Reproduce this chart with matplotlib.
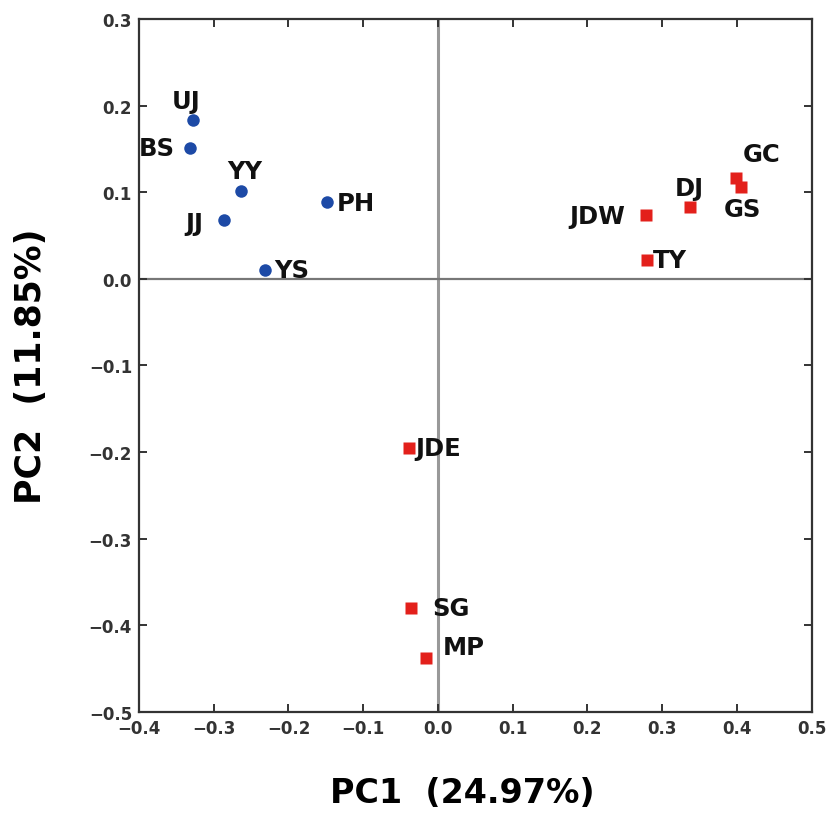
import numpy as np
import matplotlib
matplotlib.use("Agg")
import matplotlib.pyplot as plt
import matplotlib.ticker as ticker

# PCA scores
blue_names = ["UJ", "BS", "YY", "JJ", "PH", "YS"]
blue_pc1 = [-0.328, -0.332, -0.264, -0.286, -0.148, -0.232]
blue_pc2 = [0.183, 0.151, 0.101, 0.068, 0.089, 0.010]

red_names = ["GC", "GS", "DJ", "JDW", "TY", "JDE", "SG", "MP"]
red_pc1 = [0.399, 0.406, 0.337, 0.279, 0.280, -0.039, -0.036, -0.016]
red_pc2 = [0.117, 0.106, 0.083, 0.074, 0.022, -0.195, -0.380, -0.438]

# label offsets in points (dx, dy, ha, va)
OFF = {
    "UJ": (-5, 5, "center", "bottom"), "BS": (-11, 0, "right", "center"),
    "YY": (3, 6, "center", "bottom"), "JJ": (-15, -2, "right", "center"),
    "PH": (7, -1, "left", "center"), "YS": (7, 0, "left", "center"),
    "GC": (18, 8, "center", "bottom"), "GS": (1, -7, "center", "top"),
    "DJ": (0, 5, "center", "bottom"), "JDW": (-15, -1, "right", "center"),
    "TY": (4, 0, "left", "center"), "JDE": (5, 0, "left", "center"),
    "SG": (15, 0, "left", "center"), "MP": (12, 8, "left", "center"),
}

plt.rcParams.update({
    "xtick.direction": "in", "ytick.direction": "in",
    "xtick.top": True, "ytick.right": True,
    "xtick.major.size": 6, "ytick.major.size": 6,
    "xtick.major.width": 1.4, "ytick.major.width": 1.4,
})
FAM = "DejaVu Sans"

fig = plt.figure(figsize=(8.35, 8.2), dpi=100)
ax = fig.add_axes([0.1665, 0.1305, 0.8055, 0.8451])

ax.axvline(0, color="#999999", lw=2.2, zorder=1)
ax.axhline(0, color="#777777", lw=1.6, zorder=1)

ax.plot(blue_pc1, blue_pc2, "o", color="#1d4aa6", ms=9, mec="none", zorder=3)
ax.plot(red_pc1, red_pc2, "s", color="#e3201b", ms=8.5, mec="none", zorder=3)

for n, x, y in zip(blue_names + red_names, blue_pc1 + red_pc1, blue_pc2 + red_pc2):
    dx, dy, ha, va = OFF[n]
    ax.annotate(n, (x, y), (dx, dy), textcoords="offset points", ha=ha, va=va,
                color="#111111", family=FAM, fontweight="bold", fontsize=17.5)

ax.set_xlim(-0.4, 0.5)
ax.set_ylim(-0.5, 0.3)
ax.set_xticks(np.arange(-0.4, 0.51, 0.1))
ax.set_yticks(np.arange(-0.5, 0.31, 0.1))
fmt = ticker.FuncFormatter(lambda v, p: f"{v:.1f}".replace("-", "\u2212") if abs(v) > 1e-9 else "0.0")
ax.xaxis.set_major_formatter(fmt)
ax.yaxis.set_major_formatter(fmt)
for lbl in ax.get_xticklabels() + ax.get_yticklabels():
    lbl.set_fontsize(12)
    lbl.set_fontweight("bold")
    lbl.set_color("#333333")
ax.tick_params(colors="#333333", pad=5)
for s in ax.spines.values():
    s.set_color("#333333")
    s.set_linewidth(1.6)

ax.set_xlabel("PC1  (24.97%)", family=FAM, fontweight="bold",
              fontsize=24, labelpad=28, x=0.481)
ax.set_ylabel("PC2  (11.85%)", family=FAM, fontweight="bold",
              fontsize=25, labelpad=29)

fig.savefig("out.png", dpi=100)
